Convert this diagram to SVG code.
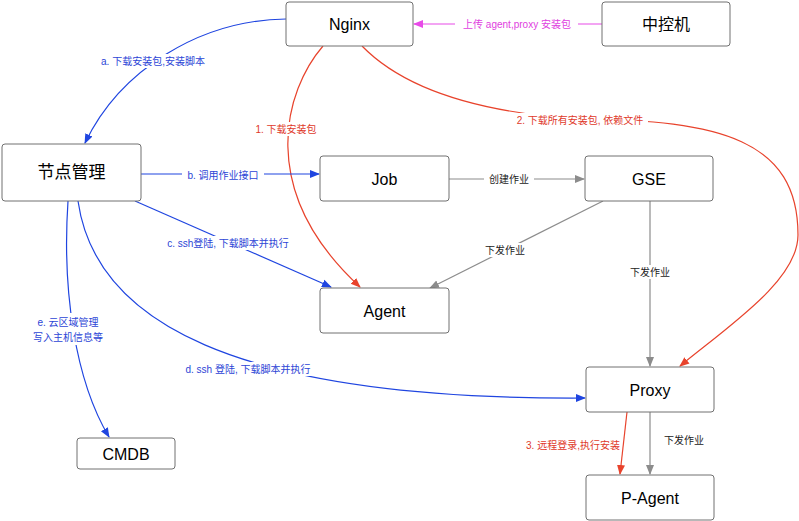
<svg xmlns="http://www.w3.org/2000/svg" width="799" height="521" viewBox="0 0 799 521">
<style>
.node rect{fill:#fff;stroke:#707070;stroke-width:1}
.node text{font-family:"Liberation Sans","Noto Sans CJK SC",sans-serif;font-size:16px;fill:#000;text-anchor:middle;dominant-baseline:central}
.c{fill:none;stroke-width:1.2}
.blue{stroke:#1f45e0}
.red{stroke:#e8432c}
.gray{stroke:#8c8c8c}
.mag{stroke:#e84ae8}
.lbl{font-family:"Liberation Sans","Noto Sans CJK SC",sans-serif;font-size:10px;text-anchor:middle;dominant-baseline:central}
.lb{fill:#2c45d6}
.lr{fill:#e0392a}
.lg{fill:#222}
.lm{fill:#e040e0}
.bg{fill:#fff}
</style>
<defs>
<marker id="ab" viewBox="0 0 10 10" refX="9" refY="5" markerWidth="10" markerHeight="10" markerUnits="userSpaceOnUse" orient="auto"><path d="M0,1 L10,5 L0,9 z" fill="#1f45e0"/></marker>
<marker id="ar" viewBox="0 0 10 10" refX="9" refY="5" markerWidth="10" markerHeight="10" markerUnits="userSpaceOnUse" orient="auto"><path d="M0,1 L10,5 L0,9 z" fill="#e8432c"/></marker>
<marker id="ag" viewBox="0 0 10 10" refX="9" refY="5" markerWidth="10" markerHeight="10" markerUnits="userSpaceOnUse" orient="auto"><path d="M0,1 L10,5 L0,9 z" fill="#8c8c8c"/></marker>
<marker id="am" viewBox="0 0 10 10" refX="9" refY="5" markerWidth="10" markerHeight="10" markerUnits="userSpaceOnUse" orient="auto"><path d="M0,1 L10,5 L0,9 z" fill="#e84ae8"/></marker>
</defs>
<rect width="799" height="521" fill="#fff"/>
<g id="connectors">
<path class="c mag" d="M602,24 L414,24" marker-end="url(#am)"/>
<path class="c blue" d="M286,19 C200,20 120,70 85,143" marker-end="url(#ab)"/>
<path class="c red" d="M323,46 C285,90 255,190 360,287" marker-end="url(#ar)"/>
<path class="c red" d="M362,46 C400,85 470,112 580,119 C720,120 798,140 798,235 C798,280 730,325 680,366" marker-end="url(#ar)"/>
<path class="c blue" d="M141,174 L319,174" marker-end="url(#ab)"/>
<path class="c blue" d="M135,201 L331,287" marker-end="url(#ab)"/>
<path class="c blue" d="M78,201 C95,320 230,400 585,398" marker-end="url(#ab)"/>
<path class="c blue" d="M68,201 C62,290 75,380 109,437" marker-end="url(#ab)"/>
<path class="c gray" d="M449,179 L584,179" marker-end="url(#ag)"/>
<path class="c gray" d="M603,201 L430,288" marker-end="url(#ag)"/>
<path class="c gray" d="M650,201 L650,366" marker-end="url(#ag)"/>
<path class="c gray" d="M650,412 L650,474" marker-end="url(#ag)"/>
<path class="c red" d="M627,412 L620,474" marker-end="url(#ar)"/>
<rect class="bg" x="455" y="17" width="123" height="14"/>
<text class="lbl lm" x="517" y="24">上传 agent,proxy 安装包</text>
<rect class="bg" x="99" y="54" width="108" height="14"/>
<text class="lbl lb" x="153" y="61">a. 下载安装包,安装脚本</text>
<rect class="bg" x="254" y="122" width="64" height="14"/>
<text class="lbl lr" x="286" y="129">1. 下载安装包</text>
<rect class="bg" x="512" y="113" width="136" height="14"/>
<text class="lbl lr" x="580" y="120">2. 下载所有安装包, 依赖文件</text>
<rect class="bg" x="182" y="168" width="82" height="14"/>
<text class="lbl lb" x="223" y="175">b. 调用作业接口</text>
<rect class="bg" x="164" y="236" width="128" height="14"/>
<text class="lbl lb" x="228" y="243">c.  ssh登陆, 下载脚本并执行</text>
<rect class="bg" x="185" y="362" width="127" height="14"/>
<text class="lbl lb" x="248" y="369">d. ssh 登陆, 下载脚本并执行</text>
<rect class="bg" x="32" y="313" width="72" height="32"/>
<text class="lbl lb" x="68" y="322">e.  云区域管理</text>
<text class="lbl lb" x="68" y="337">写入主机信息等</text>
<rect class="bg" x="484" y="172" width="50" height="14"/>
<text class="lbl lg" x="509" y="179">创建作业</text>
<rect class="bg" x="482" y="243" width="46" height="14"/>
<text class="lbl lg" x="505" y="250">下发作业</text>
<rect class="bg" x="626" y="265" width="48" height="14"/>
<text class="lbl lg" x="650" y="272">下发作业</text>
<text class="lbl lg" x="684" y="440">下发作业</text>
<text class="lbl lr" x="573" y="445">3. 远程登录,执行安装</text>
</g>
<g id="nginx" class="node"><rect x="286" y="2" width="127" height="44" rx="3"/><text x="349.5" y="24">Nginx</text></g>
<g id="zhongkongji" class="node"><rect x="602" y="2" width="128" height="44" rx="3"/><text x="666" y="24">中控机</text></g>
<g id="jiedianguanli" class="node"><rect x="2" y="144" width="139" height="57" rx="3"/><text x="71.5" y="172.5" style="font-size:17px">节点管理</text></g>
<g id="job" class="node"><rect x="320" y="156" width="129" height="45" rx="3"/><text x="384.5" y="179">Job</text></g>
<g id="gse" class="node"><rect x="585" y="156" width="128" height="45" rx="3"/><text x="649" y="179">GSE</text></g>
<g id="agent" class="node"><rect x="320" y="288" width="129" height="45" rx="3"/><text x="384.5" y="311">Agent</text></g>
<g id="proxy" class="node"><rect x="586" y="367" width="128" height="45" rx="3"/><text x="650" y="390">Proxy</text></g>
<g id="pagent" class="node"><rect x="586" y="475" width="128" height="45" rx="3"/><text x="650" y="498">P-Agent</text></g>
<g id="cmdb" class="node"><rect x="77" y="438" width="98" height="31" rx="3"/><text x="126" y="454">CMDB</text></g>
</svg>
